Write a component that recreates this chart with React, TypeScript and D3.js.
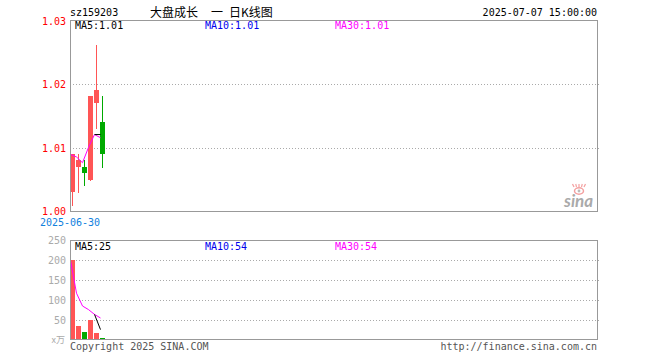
import React from 'react';
import * as d3 from 'd3';

// daily candles
const dates = ['2025-06-30', '2025-07-01', '2025-07-02', '2025-07-03', '2025-07-04', '2025-07-07'];
const opens = [1.0032, 1.0071, 1.0070, 1.0050, 1.0171, 1.0141];
const closes = [1.0090, 1.0081, 1.0061, 1.0181, 1.0191, 1.0091];
const highs = [1.0090, 1.0090, 1.0081, 1.0181, 1.0261, 1.0181];
const lows = [1.0010, 1.0030, 1.0040, 1.0048, 1.0130, 1.0069];
const volumes = [199, 35, 20, 50, 17.5, 6];

// moving averages as drawn (null = not drawn)
const ma5Price = [null, null, null, null, 1.0121, 1.0121];
const ma30Price = [1.0090, 1.0086, 1.0077, 1.0101, 1.0121, 1.0116];
const ma5Vol = [null, null, null, null, 64, 26];
const ma30Vol = [199, 117, 85, 76, 64, 55];

const priceTicks = [1.0, 1.01, 1.02, 1.03];
const volTicks = [50, 100, 150, 200, 250];

const priceLegend = ['MA5:1.01', 'MA10:1.01', 'MA30:1.01'];
const volLegend = ['MA5:25', 'MA10:54', 'MA30:54'];
const legendColors = ['#000000', '#0000ee', '#ff00ff'];

const UP = '#ff5555';
const DOWN = '#00aa00';
const FRAME = '#999999';
const MONO = '"DejaVu Sans Mono", "Liberation Mono", monospace';

export default function App() {
  const left = 70;
  const right = 597;
  const slots = 88;
  const x = d3.scaleLinear().domain([0, slots]).range([left, left + slots * 6]);
  const bw = 5;

  const y = d3.scaleLinear().domain([1.0, 1.03]).range([212, 20]);
  const yv = d3.scaleLinear().domain([0, 250]).range([340, 240]);

  const lineP = d3
    .line<number | null>()
    .defined((d) => d != null)
    .x((_, i) => x(i) + 0.5)
    .y((d) => y(d as number));
  const lineV = d3
    .line<number | null>()
    .defined((d) => d != null)
    .x((_, i) => x(i) + 0.5)
    .y((d) => yv(d as number));

  const legendX = [75, 205, 335];

  return (
    <svg width={660} height={360} style={{ position: 'absolute', left: 0, top: 0, background: '#fff' }}>
      {/* header */}
      <text x={70} y={16} fontFamily={MONO} fontSize={10} fill="#000">sz159203</text>
      <text x={150} y={17} fontFamily='"Noto Sans CJK SC", sans-serif' fontSize={12} fill="#000">大盘成长</text>
      <text x={211} y={17} fontFamily='"Noto Sans CJK SC", sans-serif' fontSize={12} fill="#000">一</text>
      <text x={229} y={17} fontFamily='"Noto Sans CJK SC", sans-serif' fontSize={12} fill="#000">日K线图</text>
      <text x={597} y={16} fontFamily={MONO} fontSize={10} fill="#000" textAnchor="end">2025-07-07 15:00:00</text>

      {/* price grid */}
      {priceTicks.filter((t) => t > 1.0 && t < 1.03).map((t) => (
        <line key={t} x1={left} x2={right + 2} y1={Math.round(y(t)) + 0.5} y2={Math.round(y(t)) + 0.5}
          stroke="#aaa" strokeDasharray="1,2" />
      ))}
      {priceTicks.map((t) => (
        <text key={t} x={66} y={t === 1.03 ? y(t) + 5 : t === 1.0 ? y(t) + 3 : y(t) + 4}
          fontFamily={MONO} fontSize={10} fill="#ff0000" textAnchor="end">
          {t.toFixed(2)}
        </text>
      ))}

      {/* sina logo */}
      <g>
        <ellipse cx={579} cy={191} rx={4.5} ry={3.2} fill="none" stroke="#f3a0a0" strokeWidth={1.5} />
        <circle cx={579} cy={191} r={1.4} fill="#bbb" />
        {[-5, -2.5, 0, 2.5, 5].map((d) => (
          <line key={d} x1={579 + d} y1={187} x2={579 + d * 1.3} y2={184} stroke="#f3a0a0" strokeWidth={1.2} />
        ))}
        <text x={564} y={207} fontFamily="Lato, sans-serif" fontStyle="italic" fontWeight={700} fontSize={17} fill="#aaa">sina</text>
      </g>

      {/* candles */}
      {dates.map((d, i) => {
        const up = closes[i] >= opens[i];
        const c = up ? UP : DOWN;
        const x0 = Math.round(x(i));
        const top = Math.round(y(Math.max(opens[i], closes[i])));
        const bot = Math.round(y(Math.min(opens[i], closes[i])));
        return (
          <g key={d} shapeRendering="crispEdges">
            <line x1={x0 + 2.5} x2={x0 + 2.5} y1={y(highs[i])} y2={y(lows[i])} stroke={c} />
            <rect x={x0} y={top} width={bw} height={Math.max(1, bot - top)} fill={c} />
          </g>
        );
      })}
      <path d={lineP(ma30Price) || ''} fill="none" stroke="#ff00ff" strokeWidth={1} />
      <path d={lineP(ma5Price) || ''} fill="none" stroke="#000" strokeWidth={1} />

      <rect x={left + 0.5} y={20.5} width={right - left} height={191} fill="none" stroke={FRAME} />
      {priceLegend.map((s, i) => (
        <text key={s} x={legendX[i]} y={29} fontFamily={MONO} fontSize={10} fill={legendColors[i]}>{s}</text>
      ))}
      <text x={70} y={226} fontFamily={MONO} fontSize={10} fill="#1080dd" textAnchor="middle">{dates[0]}</text>

      {/* volume panel */}
      {volTicks.filter((t) => t < 250).map((t) => (
        <line key={t} x1={left} x2={right + 2} y1={yv(t) + 0.5} y2={yv(t) + 0.5} stroke="#aaa" strokeDasharray="1,2" />
      ))}
      {volTicks.map((t) => (
        <text key={t} x={66} y={yv(t) + 4} fontFamily={MONO} fontSize={10} fill="#aaa" textAnchor="end">{t}</text>
      ))}
      <text x={65} y={343} fontFamily='"Noto Sans CJK SC", sans-serif' fontSize={9} fill="#aaa" textAnchor="end">x万</text>

      {dates.map((d, i) => {
        const up = closes[i] >= opens[i];
        const top = Math.round(yv(volumes[i]));
        return (
          <rect key={d} x={Math.round(x(i))} y={top} width={bw} height={yv(0) - top}
            fill={up ? UP : DOWN} shapeRendering="crispEdges" />
        );
      })}
      <path d={lineV(ma30Vol) || ''} fill="none" stroke="#ff00ff" strokeWidth={1} />
      <path d={lineV(ma5Vol) || ''} fill="none" stroke="#000" strokeWidth={1} />

      <rect x={left + 0.5} y={240.5} width={right - left} height={99} fill="none" stroke={FRAME} />
      {volLegend.map((s, i) => (
        <text key={s} x={legendX[i]} y={250} fontFamily={MONO} fontSize={10} fill={legendColors[i]}>{s}</text>
      ))}

      <text x={70} y={350} fontFamily={MONO} fontSize={10} fill="#555">Copyright 2025 SINA.COM</text>
      <text x={597} y={350} fontFamily={MONO} fontSize={10} fill="#555" textAnchor="end">http://finance.sina.com.cn</text>
    </svg>
  );
}
